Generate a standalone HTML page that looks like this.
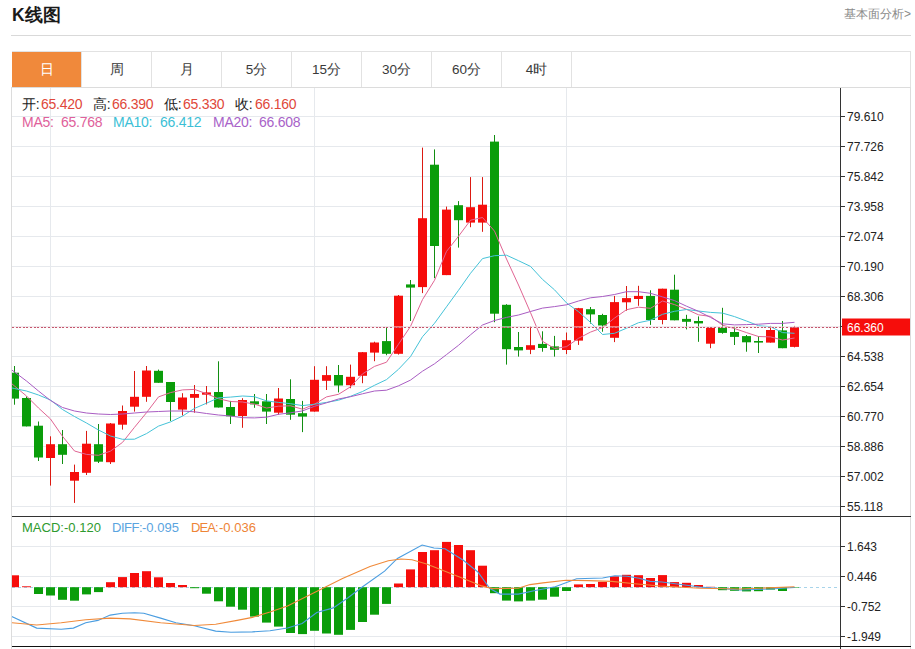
<!DOCTYPE html>
<html><head><meta charset="utf-8">
<style>
html,body{margin:0;padding:0;background:#fff;}
body{width:915px;height:649px;overflow:hidden;position:relative;font-family:"Liberation Sans",sans-serif;}
.title{position:absolute;left:12px;top:3.2px;font-size:17.5px;font-weight:bold;color:#1a1a1a;line-height:24px;}
.more{position:absolute;right:4px;top:5px;font-size:12px;color:#8a8a8a;line-height:18px;}
.hr{position:absolute;left:11px;top:35px;width:900px;height:1px;background:#d9d9d9;}
.tabs{position:absolute;left:12px;top:51px;width:898px;height:35px;border:1px solid #e2e2e2;border-left:none;}
.tab{position:absolute;top:0;height:35px;width:69px;border-right:1px solid #e2e2e2;text-align:center;line-height:36px;font-size:13.5px;color:#3a3a3a;}
.tab.on{background:#f0893b;color:#fff;}
svg{position:absolute;left:0;top:0;}
svg text{font-family:"Liberation Sans",sans-serif;font-size:12px;fill:#222;}
.leg{position:absolute;font-size:14px;letter-spacing:-0.25px;line-height:16px;white-space:nowrap;}
.lm{font-size:13px;letter-spacing:0}
.k{color:#222}.r{color:#e0483a}
</style></head><body>
<div class="title">K线图</div>
<div class="more">基本面分析&gt;</div>
<div class="hr"></div>
<div class="tabs">
<div class="tab on" style="left:0">日</div>
<div class="tab" style="left:70px">周</div>
<div class="tab" style="left:140px">月</div>
<div class="tab" style="left:210px">5分</div>
<div class="tab" style="left:280px">15分</div>
<div class="tab" style="left:350px">30分</div>
<div class="tab" style="left:420px">60分</div>
<div class="tab" style="left:490px">4时</div>
</div>
<svg width="915" height="649" viewBox="0 0 915 649">
<defs><clipPath id="cl"><rect x="12" y="88" width="828" height="428"/></clipPath>
<clipPath id="cm"><rect x="12" y="517" width="828" height="129"/></clipPath></defs>
<rect x="11.5" y="87.5" width="899" height="570" fill="none" stroke="#dcdcdc" stroke-width="1"/>
<rect x="12" y="116.0" width="828" height="1" fill="#e6e9ed"/>
<rect x="12" y="146.0" width="828" height="1" fill="#e6e9ed"/>
<rect x="12" y="176.0" width="828" height="1" fill="#e6e9ed"/>
<rect x="12" y="206.0" width="828" height="1" fill="#e6e9ed"/>
<rect x="12" y="236.0" width="828" height="1" fill="#e6e9ed"/>
<rect x="12" y="266.0" width="828" height="1" fill="#e6e9ed"/>
<rect x="12" y="296.0" width="828" height="1" fill="#e6e9ed"/>
<rect x="12" y="326.0" width="828" height="1" fill="#e6e9ed"/>
<rect x="12" y="356.0" width="828" height="1" fill="#e6e9ed"/>
<rect x="12" y="386.0" width="828" height="1" fill="#e6e9ed"/>
<rect x="12" y="416.0" width="828" height="1" fill="#e6e9ed"/>
<rect x="12" y="446.0" width="828" height="1" fill="#e6e9ed"/>
<rect x="12" y="476.0" width="828" height="1" fill="#e6e9ed"/>
<rect x="12" y="506.0" width="828" height="1" fill="#e6e9ed"/>
<rect x="12" y="546.0" width="828" height="1" fill="#e6e9ed"/>
<rect x="12" y="576.0" width="828" height="1" fill="#e6e9ed"/>
<rect x="12" y="606.0" width="828" height="1" fill="#e6e9ed"/>
<rect x="12" y="636.0" width="828" height="1" fill="#e6e9ed"/>
<rect x="50.0" y="88" width="1" height="561" fill="#e6e9ed"/>
<rect x="314.0" y="88" width="1" height="561" fill="#e6e9ed"/>
<rect x="566.0" y="88" width="1" height="561" fill="#e6e9ed"/>
<g clip-path="url(#cl)">
<rect x="14.0" y="366.0" width="1" height="38.7" fill="#128e12"/>
<rect x="10.0" y="372.7" width="9" height="25.9" fill="#0a9d0a"/>
<rect x="26.0" y="396.4" width="1" height="30.0" fill="#128e12"/>
<rect x="22.0" y="398.0" width="9" height="28.4" fill="#0a9d0a"/>
<rect x="38.0" y="421.5" width="1" height="39.5" fill="#128e12"/>
<rect x="34.0" y="425.7" width="9" height="31.8" fill="#0a9d0a"/>
<rect x="50.0" y="436.3" width="1" height="49.3" fill="#dc1a12"/>
<rect x="46.0" y="444.2" width="9" height="13.8" fill="#f60d0b"/>
<rect x="62.0" y="430.0" width="1" height="34.0" fill="#128e12"/>
<rect x="58.0" y="444.2" width="9" height="10.6" fill="#0a9d0a"/>
<rect x="74.0" y="464.6" width="1" height="38.3" fill="#dc1a12"/>
<rect x="70.0" y="472.0" width="9" height="8.7" fill="#f60d0b"/>
<rect x="86.0" y="430.9" width="1" height="44.1" fill="#dc1a12"/>
<rect x="82.0" y="443.7" width="9" height="29.1" fill="#f60d0b"/>
<rect x="98.0" y="424.0" width="1" height="39.0" fill="#128e12"/>
<rect x="94.0" y="444.2" width="9" height="17.5" fill="#0a9d0a"/>
<rect x="110.0" y="423.0" width="1" height="41.0" fill="#dc1a12"/>
<rect x="106.0" y="423.5" width="9" height="38.7" fill="#f60d0b"/>
<rect x="122.0" y="405.5" width="1" height="24.1" fill="#dc1a12"/>
<rect x="118.0" y="411.0" width="9" height="13.7" fill="#f60d0b"/>
<rect x="134.0" y="371.0" width="1" height="40.6" fill="#dc1a12"/>
<rect x="130.0" y="396.8" width="9" height="9.9" fill="#f60d0b"/>
<rect x="146.0" y="366.0" width="1" height="35.8" fill="#dc1a12"/>
<rect x="142.0" y="370.5" width="9" height="26.3" fill="#f60d0b"/>
<rect x="158.0" y="369.6" width="1" height="13.2" fill="#128e12"/>
<rect x="154.0" y="370.8" width="9" height="12.0" fill="#0a9d0a"/>
<rect x="170.0" y="382.0" width="1" height="38.9" fill="#128e12"/>
<rect x="166.0" y="382.0" width="9" height="20.0" fill="#0a9d0a"/>
<rect x="182.0" y="393.2" width="1" height="22.3" fill="#dc1a12"/>
<rect x="178.0" y="397.5" width="9" height="12.1" fill="#f60d0b"/>
<rect x="194.0" y="385.0" width="1" height="27.7" fill="#dc1a12"/>
<rect x="190.0" y="394.0" width="9" height="3.8" fill="#f60d0b"/>
<rect x="206.0" y="386.0" width="1" height="18.4" fill="#dc1a12"/>
<rect x="202.0" y="392.4" width="9" height="2.3" fill="#f60d0b"/>
<rect x="218.0" y="361.3" width="1" height="46.2" fill="#128e12"/>
<rect x="214.0" y="392.0" width="9" height="15.5" fill="#0a9d0a"/>
<rect x="230.0" y="400.9" width="1" height="23.1" fill="#128e12"/>
<rect x="226.0" y="407.0" width="9" height="9.3" fill="#0a9d0a"/>
<rect x="242.0" y="398.2" width="1" height="29.6" fill="#dc1a12"/>
<rect x="238.0" y="400.0" width="9" height="16.0" fill="#f60d0b"/>
<rect x="254.0" y="394.0" width="1" height="13.8" fill="#128e12"/>
<rect x="250.0" y="401.3" width="9" height="3.1" fill="#0a9d0a"/>
<rect x="266.0" y="394.0" width="1" height="30.0" fill="#128e12"/>
<rect x="262.0" y="401.3" width="9" height="10.3" fill="#0a9d0a"/>
<rect x="278.0" y="388.0" width="1" height="26.7" fill="#dc1a12"/>
<rect x="274.0" y="398.5" width="9" height="14.2" fill="#f60d0b"/>
<rect x="290.0" y="379.3" width="1" height="40.5" fill="#128e12"/>
<rect x="286.0" y="399.0" width="9" height="15.7" fill="#0a9d0a"/>
<rect x="302.0" y="400.9" width="1" height="31.2" fill="#128e12"/>
<rect x="298.0" y="413.2" width="9" height="3.4" fill="#0a9d0a"/>
<rect x="314.0" y="366.2" width="1" height="45.4" fill="#dc1a12"/>
<rect x="310.0" y="379.8" width="9" height="31.8" fill="#f60d0b"/>
<rect x="326.0" y="366.2" width="1" height="23.8" fill="#dc1a12"/>
<rect x="322.0" y="375.1" width="9" height="5.7" fill="#f60d0b"/>
<rect x="338.0" y="365.0" width="1" height="27.4" fill="#128e12"/>
<rect x="334.0" y="375.0" width="9" height="10.5" fill="#0a9d0a"/>
<rect x="350.0" y="364.6" width="1" height="23.6" fill="#dc1a12"/>
<rect x="346.0" y="376.8" width="9" height="8.4" fill="#f60d0b"/>
<rect x="362.0" y="352.0" width="1" height="31.2" fill="#dc1a12"/>
<rect x="358.0" y="352.2" width="9" height="23.6" fill="#f60d0b"/>
<rect x="374.0" y="341.7" width="1" height="19.5" fill="#dc1a12"/>
<rect x="370.0" y="342.5" width="9" height="10.1" fill="#f60d0b"/>
<rect x="386.0" y="327.7" width="1" height="27.5" fill="#128e12"/>
<rect x="382.0" y="341.1" width="9" height="12.7" fill="#0a9d0a"/>
<rect x="398.0" y="295.0" width="1" height="59.6" fill="#dc1a12"/>
<rect x="394.0" y="295.7" width="9" height="58.1" fill="#f60d0b"/>
<rect x="410.0" y="280.0" width="1" height="41.0" fill="#128e12"/>
<rect x="406.0" y="284.4" width="9" height="3.2" fill="#0a9d0a"/>
<rect x="422.0" y="147.6" width="1" height="145.5" fill="#dc1a12"/>
<rect x="418.0" y="218.2" width="9" height="68.9" fill="#f60d0b"/>
<rect x="434.0" y="149.4" width="1" height="128.7" fill="#128e12"/>
<rect x="430.0" y="164.7" width="9" height="81.3" fill="#0a9d0a"/>
<rect x="446.0" y="206.6" width="1" height="68.5" fill="#dc1a12"/>
<rect x="442.0" y="209.6" width="9" height="65.5" fill="#f60d0b"/>
<rect x="458.0" y="201.1" width="1" height="46.5" fill="#128e12"/>
<rect x="454.0" y="205.2" width="9" height="15.0" fill="#0a9d0a"/>
<rect x="470.0" y="177.1" width="1" height="50.1" fill="#dc1a12"/>
<rect x="466.0" y="207.2" width="9" height="15.4" fill="#f60d0b"/>
<rect x="482.0" y="177.1" width="1" height="54.7" fill="#dc1a12"/>
<rect x="478.0" y="204.7" width="9" height="17.9" fill="#f60d0b"/>
<rect x="494.0" y="135.0" width="1" height="187.2" fill="#128e12"/>
<rect x="490.0" y="141.6" width="9" height="172.1" fill="#0a9d0a"/>
<rect x="506.0" y="304.2" width="1" height="60.4" fill="#128e12"/>
<rect x="502.0" y="304.8" width="9" height="44.4" fill="#0a9d0a"/>
<rect x="518.0" y="332.0" width="1" height="24.6" fill="#128e12"/>
<rect x="514.0" y="347.0" width="9" height="3.4" fill="#0a9d0a"/>
<rect x="530.0" y="326.4" width="1" height="27.7" fill="#dc1a12"/>
<rect x="526.0" y="345.2" width="9" height="4.6" fill="#f60d0b"/>
<rect x="542.0" y="331.3" width="1" height="20.4" fill="#128e12"/>
<rect x="538.0" y="343.9" width="9" height="4.1" fill="#0a9d0a"/>
<rect x="554.0" y="335.9" width="1" height="20.7" fill="#128e12"/>
<rect x="550.0" y="346.4" width="9" height="3.4" fill="#0a9d0a"/>
<rect x="566.0" y="332.5" width="1" height="21.6" fill="#dc1a12"/>
<rect x="562.0" y="340.2" width="9" height="9.8" fill="#f60d0b"/>
<rect x="578.0" y="307.9" width="1" height="37.0" fill="#dc1a12"/>
<rect x="574.0" y="308.2" width="9" height="32.4" fill="#f60d0b"/>
<rect x="590.0" y="307.0" width="1" height="16.6" fill="#128e12"/>
<rect x="586.0" y="309.2" width="9" height="5.2" fill="#0a9d0a"/>
<rect x="602.0" y="313.8" width="1" height="17.9" fill="#128e12"/>
<rect x="598.0" y="315.0" width="9" height="10.5" fill="#0a9d0a"/>
<rect x="614.0" y="295.9" width="1" height="46.2" fill="#dc1a12"/>
<rect x="610.0" y="302.1" width="9" height="35.7" fill="#f60d0b"/>
<rect x="626.0" y="286.0" width="1" height="24.7" fill="#dc1a12"/>
<rect x="622.0" y="298.1" width="9" height="4.2" fill="#f60d0b"/>
<rect x="638.0" y="285.8" width="1" height="20.0" fill="#dc1a12"/>
<rect x="634.0" y="295.9" width="9" height="3.1" fill="#f60d0b"/>
<rect x="650.0" y="290.3" width="1" height="34.6" fill="#128e12"/>
<rect x="646.0" y="295.9" width="9" height="24.1" fill="#0a9d0a"/>
<rect x="662.0" y="288.7" width="1" height="35.6" fill="#dc1a12"/>
<rect x="658.0" y="288.7" width="9" height="31.3" fill="#f60d0b"/>
<rect x="674.0" y="274.7" width="1" height="45.6" fill="#128e12"/>
<rect x="670.0" y="289.7" width="9" height="30.6" fill="#0a9d0a"/>
<rect x="686.0" y="314.8" width="1" height="14.6" fill="#128e12"/>
<rect x="682.0" y="318.9" width="9" height="2.9" fill="#0a9d0a"/>
<rect x="698.0" y="316.4" width="1" height="25.4" fill="#128e12"/>
<rect x="694.0" y="321.0" width="9" height="2.4" fill="#0a9d0a"/>
<rect x="710.0" y="327.7" width="1" height="20.5" fill="#dc1a12"/>
<rect x="706.0" y="327.7" width="9" height="16.0" fill="#f60d0b"/>
<rect x="722.0" y="307.8" width="1" height="25.9" fill="#128e12"/>
<rect x="718.0" y="327.7" width="9" height="5.2" fill="#0a9d0a"/>
<rect x="734.0" y="326.7" width="1" height="18.3" fill="#128e12"/>
<rect x="730.0" y="332.0" width="9" height="4.9" fill="#0a9d0a"/>
<rect x="746.0" y="335.0" width="1" height="16.7" fill="#128e12"/>
<rect x="742.0" y="336.1" width="9" height="6.2" fill="#0a9d0a"/>
<rect x="758.0" y="336.1" width="1" height="16.9" fill="#128e12"/>
<rect x="754.0" y="341.0" width="9" height="1.6" fill="#0a9d0a"/>
<rect x="770.0" y="325.9" width="1" height="16.7" fill="#dc1a12"/>
<rect x="766.0" y="330.0" width="9" height="12.6" fill="#f60d0b"/>
<rect x="782.0" y="321.0" width="1" height="27.2" fill="#128e12"/>
<rect x="778.0" y="330.4" width="9" height="17.8" fill="#0a9d0a"/>
<rect x="794.0" y="325.9" width="1" height="21.5" fill="#dc1a12"/>
<rect x="790.0" y="327.0" width="9" height="19.9" fill="#f60d0b"/>
<path d="M2.0,375.6 L14.5,386.0 L26.5,396.0 L38.5,408.0 L50.5,419.0 L62.5,436.3 L74.5,451.0 L86.5,454.4 L98.5,455.3 L110.5,451.1 L122.5,442.4 L134.5,427.3 L146.5,412.7 L158.5,396.9 L170.5,392.6 L182.5,389.9 L194.5,389.4 L206.5,393.7 L218.5,398.7 L230.5,401.5 L242.5,402.0 L254.5,404.1 L266.5,408.0 L278.5,406.2 L290.5,405.8 L302.5,409.2 L314.5,404.2 L326.5,396.9 L338.5,394.3 L350.5,386.8 L362.5,373.9 L374.5,366.4 L386.5,362.2 L398.5,344.2 L410.5,326.4 L422.5,299.6 L434.5,280.3 L446.5,251.4 L458.5,236.3 L470.5,220.2 L482.5,217.5 L494.5,231.1 L506.5,259.0 L518.5,285.0 L530.5,312.6 L542.5,341.3 L554.5,348.5 L566.5,346.7 L578.5,338.3 L590.5,332.1 L602.5,327.6 L614.5,318.1 L626.5,309.7 L638.5,307.2 L650.5,308.3 L662.5,301.0 L674.5,304.6 L686.5,309.3 L698.5,314.8 L710.5,316.4 L722.5,325.2 L734.5,328.5 L746.5,332.6 L758.5,336.5 L770.5,336.9 L782.5,340.0 L794.5,338.0" fill="none" stroke="#e06593" stroke-width="1"/><path d="M2.0,385.9 L14.5,388.5 L26.5,391.0 L38.5,395.0 L50.5,400.0 L62.5,409.5 L74.5,416.5 L86.5,423.0 L98.5,430.0 L110.5,436.0 L122.5,439.3 L134.5,439.2 L146.5,433.6 L158.5,426.1 L170.5,421.9 L182.5,416.1 L194.5,408.4 L206.5,403.2 L218.5,397.8 L230.5,397.1 L242.5,396.0 L254.5,396.7 L266.5,400.9 L278.5,402.4 L290.5,403.7 L302.5,405.6 L314.5,404.2 L326.5,402.4 L338.5,400.2 L350.5,396.3 L362.5,391.5 L374.5,385.3 L386.5,379.6 L398.5,369.3 L410.5,356.6 L422.5,336.7 L434.5,323.3 L446.5,306.8 L458.5,290.3 L470.5,273.3 L482.5,258.6 L494.5,255.7 L506.5,255.2 L518.5,260.7 L530.5,266.4 L542.5,279.4 L554.5,289.8 L566.5,302.9 L578.5,311.7 L590.5,322.4 L602.5,334.5 L614.5,333.3 L626.5,328.2 L638.5,322.7 L650.5,320.2 L662.5,314.3 L674.5,311.3 L686.5,309.5 L698.5,311.0 L710.5,312.4 L722.5,313.1 L734.5,316.6 L746.5,321.0 L758.5,325.7 L770.5,326.7 L782.5,332.6 L794.5,333.3" fill="none" stroke="#45c3d8" stroke-width="1"/><path d="M2.0,362.6 L14.5,372.0 L26.5,381.0 L38.5,391.0 L50.5,400.5 L62.5,407.5 L74.5,411.0 L86.5,413.0 L98.5,414.0 L110.5,414.5 L122.5,414.0 L134.5,413.0 L146.5,412.0 L158.5,411.5 L170.5,411.0 L182.5,411.0 L194.5,411.8 L206.5,413.5 L218.5,415.0 L230.5,416.0 L242.5,417.7 L254.5,417.9 L266.5,417.2 L278.5,414.3 L290.5,412.8 L302.5,410.9 L314.5,406.3 L326.5,402.8 L338.5,399.0 L350.5,396.7 L362.5,393.8 L374.5,391.0 L386.5,390.2 L398.5,385.8 L410.5,380.1 L422.5,371.2 L434.5,363.8 L446.5,354.6 L458.5,345.3 L470.5,334.8 L482.5,325.0 L494.5,320.5 L506.5,317.4 L518.5,315.0 L530.5,311.5 L542.5,308.1 L554.5,306.6 L566.5,304.8 L578.5,301.0 L590.5,297.8 L602.5,296.5 L614.5,294.5 L626.5,291.7 L638.5,291.7 L650.5,293.3 L662.5,296.9 L674.5,300.6 L686.5,306.2 L698.5,311.3 L710.5,317.4 L722.5,323.8 L734.5,324.9 L746.5,324.6 L758.5,324.2 L770.5,323.4 L782.5,323.4 L794.5,322.3" fill="none" stroke="#a95dc3" stroke-width="1"/>
</g>
<line x1="12" y1="327" x2="840" y2="327" stroke="#fbe6ea" stroke-width="1"/><line x1="12" y1="327" x2="840" y2="327" stroke="#c4586e" stroke-width="1" stroke-dasharray="2,1.6" shape-rendering="crispEdges"/>
<g clip-path="url(#cm)">
<line x1="12" y1="587.5" x2="840" y2="587.5" stroke="#a8d4ea" stroke-width="1" stroke-dasharray="3,3"/>
<rect x="10.0" y="575.3" width="9" height="11.9" fill="#f60d0b"/>
<rect x="22.0" y="586.3" width="9" height="0.9" fill="#f60d0b"/>
<rect x="34.0" y="587.2" width="9" height="6.8" fill="#0a9d0a"/>
<rect x="46.0" y="587.2" width="9" height="8.3" fill="#0a9d0a"/>
<rect x="58.0" y="587.2" width="9" height="12.6" fill="#0a9d0a"/>
<rect x="70.0" y="587.2" width="9" height="13.5" fill="#0a9d0a"/>
<rect x="82.0" y="587.2" width="9" height="7.2" fill="#0a9d0a"/>
<rect x="94.0" y="587.2" width="9" height="4.9" fill="#0a9d0a"/>
<rect x="106.0" y="582.2" width="9" height="5.0" fill="#f60d0b"/>
<rect x="118.0" y="577.1" width="9" height="10.1" fill="#f60d0b"/>
<rect x="130.0" y="573.0" width="9" height="14.2" fill="#f60d0b"/>
<rect x="142.0" y="571.2" width="9" height="16.0" fill="#f60d0b"/>
<rect x="154.0" y="577.3" width="9" height="9.9" fill="#f60d0b"/>
<rect x="166.0" y="583.0" width="9" height="4.2" fill="#f60d0b"/>
<rect x="178.0" y="585.0" width="9" height="2.2" fill="#f60d0b"/>
<rect x="190.0" y="587.2" width="9" height="1.0" fill="#0a9d0a"/>
<rect x="202.0" y="587.2" width="9" height="6.5" fill="#0a9d0a"/>
<rect x="214.0" y="587.2" width="9" height="14.1" fill="#0a9d0a"/>
<rect x="226.0" y="587.2" width="9" height="19.5" fill="#0a9d0a"/>
<rect x="238.0" y="587.2" width="9" height="22.5" fill="#0a9d0a"/>
<rect x="250.0" y="587.2" width="9" height="29.4" fill="#0a9d0a"/>
<rect x="262.0" y="587.2" width="9" height="35.4" fill="#0a9d0a"/>
<rect x="274.0" y="587.2" width="9" height="39.4" fill="#0a9d0a"/>
<rect x="286.0" y="587.2" width="9" height="45.8" fill="#0a9d0a"/>
<rect x="298.0" y="587.2" width="9" height="46.9" fill="#0a9d0a"/>
<rect x="310.0" y="587.2" width="9" height="43.6" fill="#0a9d0a"/>
<rect x="322.0" y="587.2" width="9" height="46.3" fill="#0a9d0a"/>
<rect x="334.0" y="587.2" width="9" height="47.6" fill="#0a9d0a"/>
<rect x="346.0" y="587.2" width="9" height="42.7" fill="#0a9d0a"/>
<rect x="358.0" y="587.2" width="9" height="34.8" fill="#0a9d0a"/>
<rect x="370.0" y="587.2" width="9" height="27.5" fill="#0a9d0a"/>
<rect x="382.0" y="587.2" width="9" height="16.7" fill="#0a9d0a"/>
<rect x="394.0" y="583.5" width="9" height="3.7" fill="#f60d0b"/>
<rect x="406.0" y="569.4" width="9" height="17.8" fill="#f60d0b"/>
<rect x="418.0" y="552.0" width="9" height="35.2" fill="#f60d0b"/>
<rect x="430.0" y="550.2" width="9" height="37.0" fill="#f60d0b"/>
<rect x="442.0" y="541.9" width="9" height="45.3" fill="#f60d0b"/>
<rect x="454.0" y="545.0" width="9" height="42.2" fill="#f60d0b"/>
<rect x="466.0" y="550.2" width="9" height="37.0" fill="#f60d0b"/>
<rect x="478.0" y="565.7" width="9" height="21.5" fill="#f60d0b"/>
<rect x="490.0" y="587.2" width="9" height="6.0" fill="#0a9d0a"/>
<rect x="502.0" y="587.2" width="9" height="13.4" fill="#0a9d0a"/>
<rect x="514.0" y="587.2" width="9" height="14.2" fill="#0a9d0a"/>
<rect x="526.0" y="587.2" width="9" height="13.4" fill="#0a9d0a"/>
<rect x="538.0" y="587.2" width="9" height="12.5" fill="#0a9d0a"/>
<rect x="550.0" y="587.2" width="9" height="9.5" fill="#0a9d0a"/>
<rect x="562.0" y="587.2" width="9" height="3.8" fill="#0a9d0a"/>
<rect x="574.0" y="584.4" width="9" height="2.8" fill="#f60d0b"/>
<rect x="586.0" y="584.0" width="9" height="3.2" fill="#f60d0b"/>
<rect x="598.0" y="581.8" width="9" height="5.4" fill="#f60d0b"/>
<rect x="610.0" y="576.3" width="9" height="10.9" fill="#f60d0b"/>
<rect x="622.0" y="574.8" width="9" height="12.4" fill="#f60d0b"/>
<rect x="634.0" y="575.2" width="9" height="12.0" fill="#f60d0b"/>
<rect x="646.0" y="578.0" width="9" height="9.2" fill="#f60d0b"/>
<rect x="658.0" y="575.1" width="9" height="12.1" fill="#f60d0b"/>
<rect x="670.0" y="582.1" width="9" height="5.1" fill="#f60d0b"/>
<rect x="682.0" y="582.8" width="9" height="4.4" fill="#f60d0b"/>
<rect x="694.0" y="585.0" width="9" height="2.2" fill="#f60d0b"/>
<rect x="706.0" y="586.8" width="9" height="0.4" fill="#f60d0b"/>
<rect x="718.0" y="587.2" width="9" height="3.0" fill="#0a9d0a"/>
<rect x="730.0" y="587.2" width="9" height="3.6" fill="#0a9d0a"/>
<rect x="742.0" y="587.2" width="9" height="4.2" fill="#0a9d0a"/>
<rect x="754.0" y="587.2" width="9" height="4.0" fill="#0a9d0a"/>
<rect x="766.0" y="587.2" width="9" height="2.4" fill="#0a9d0a"/>
<rect x="778.0" y="587.2" width="9" height="3.8" fill="#0a9d0a"/>
<rect x="790.0" y="587.2" width="9" height="0.5" fill="#0a9d0a"/>
<path d="M2.0,610.0 L11.5,616.3 L36.7,628.1 L61.2,629.2 L73.4,628.1 L85.7,622.7 L97.9,620.4 L110.2,615.1 L122.4,613.2 L134.6,612.8 L143.8,613.2 L160.6,618.1 L175.9,622.7 L194.3,625.8 L215.7,631.1 L231.0,632.2 L252.4,631.9 L270.0,630.7 L287.5,628.0 L302.1,623.5 L316.8,612.5 L333.3,607.9 L348.0,597.8 L362.6,586.8 L384.6,571.2 L397.4,558.4 L422.1,545.0 L434.0,548.0 L445.0,548.7 L463.3,560.2 L478.0,572.1 L489.9,588.6 L500.0,594.1 L518.3,594.1 L535.3,590.5 L555.2,586.7 L576.6,578.8 L602.6,578.0 L614.9,575.7 L627.1,576.3 L639.3,578.3 L650.0,581.4 L662.0,582.0 L700.0,587.0 L740.0,590.0 L770.0,589.0 L794.5,587.5" fill="none" stroke="#4a9de0" stroke-width="1.1"/><path d="M2.0,621.0 L11.5,622.7 L36.7,625.0 L61.2,622.7 L85.7,619.7 L110.2,618.1 L130.0,618.9 L160.6,622.7 L194.3,625.5 L215.7,624.3 L237.1,620.4 L252.4,617.4 L270.0,612.0 L287.5,606.0 L315.0,592.3 L342.5,578.6 L370.0,566.6 L388.3,560.8 L401.0,559.0 L412.0,559.7 L426.6,563.9 L445.0,571.2 L463.3,578.6 L481.6,585.9 L492.6,588.6 L518.3,588.3 L530.0,584.6 L543.0,582.9 L565.9,580.3 L588.8,580.6 L611.8,581.4 L634.8,583.7 L660.0,586.0 L700.0,588.3 L740.0,589.0 L794.5,586.8" fill="none" stroke="#f08a3a" stroke-width="1.1"/>
</g>
<rect x="840" y="88" width="1" height="561" fill="#333"/>
<rect x="12" y="516" width="899" height="1" fill="#333"/>
<rect x="12" y="646" width="899" height="1" fill="#111"/>
<rect x="840" y="116.0" width="5" height="1" fill="#333"/>
<text x="847" y="121.0">79.610</text>
<rect x="840" y="146.0" width="5" height="1" fill="#333"/>
<text x="847" y="151.0">77.726</text>
<rect x="840" y="176.0" width="5" height="1" fill="#333"/>
<text x="847" y="181.0">75.842</text>
<rect x="840" y="206.0" width="5" height="1" fill="#333"/>
<text x="847" y="211.0">73.958</text>
<rect x="840" y="236.0" width="5" height="1" fill="#333"/>
<text x="847" y="241.0">72.074</text>
<rect x="840" y="266.0" width="5" height="1" fill="#333"/>
<text x="847" y="271.0">70.190</text>
<rect x="840" y="296.0" width="5" height="1" fill="#333"/>
<text x="847" y="301.0">68.306</text>
<rect x="840" y="326.0" width="5" height="1" fill="#333"/>
<rect x="840" y="356.0" width="5" height="1" fill="#333"/>
<text x="847" y="361.0">64.538</text>
<rect x="840" y="386.0" width="5" height="1" fill="#333"/>
<text x="847" y="391.0">62.654</text>
<rect x="840" y="416.0" width="5" height="1" fill="#333"/>
<text x="847" y="421.0">60.770</text>
<rect x="840" y="446.0" width="5" height="1" fill="#333"/>
<text x="847" y="451.0">58.886</text>
<rect x="840" y="476.0" width="5" height="1" fill="#333"/>
<text x="847" y="481.0">57.002</text>
<rect x="840" y="506.0" width="5" height="1" fill="#333"/>
<text x="847" y="511.0">55.118</text>
<rect x="840" y="546.0" width="5" height="1" fill="#333"/>
<text x="847" y="551.0">1.643</text>
<rect x="840" y="576.0" width="5" height="1" fill="#333"/>
<text x="847" y="581.0">0.446</text>
<rect x="840" y="606.0" width="5" height="1" fill="#333"/>
<text x="847" y="611.0">-0.752</text>
<rect x="840" y="636.0" width="5" height="1" fill="#333"/>
<text x="847" y="641.0">-1.949</text>
<rect x="842" y="318.5" width="68" height="17" fill="#f60d0b"/>
<text x="847" y="331.5" style="fill:#fff">66.360</text>
</svg>
<div class="leg k" style="left:22px;top:96px">开:</div><div class="leg r" style="left:41px;top:96px">65.420</div>
<div class="leg k" style="left:93px;top:96px">高:</div><div class="leg r" style="left:112px;top:96px">66.390</div>
<div class="leg k" style="left:164px;top:96px">低:</div><div class="leg r" style="left:183px;top:96px">65.330</div>
<div class="leg k" style="left:235px;top:96px">收:</div><div class="leg r" style="left:255px;top:96px">66.160</div>
<div class="leg" style="left:22px;top:114px;color:#e0609a">MA5:</div><div class="leg" style="left:61px;top:114px;color:#e0609a">65.768</div>
<div class="leg" style="left:113px;top:114px;color:#3cbfd6">MA10:</div><div class="leg" style="left:160px;top:114px;color:#3cbfd6">66.412</div>
<div class="leg" style="left:213px;top:114px;color:#a862c8">MA20:</div><div class="leg" style="left:259px;top:114px;color:#a862c8">66.608</div>
<div class="leg lm" style="left:22px;top:520px;color:#2e9a2e">MACD:</div><div class="leg lm" style="left:64px;top:520px;color:#2e9a2e">-0.120</div>
<div class="leg lm" style="left:112px;top:520px;color:#5aa4e0;letter-spacing:-0.5px">DIFF:</div><div class="leg lm" style="left:142px;top:520px;color:#5aa4e0">-0.095</div>
<div class="leg lm" style="left:191px;top:520px;color:#ee8436;letter-spacing:-0.9px">DEA:</div><div class="leg lm" style="left:219px;top:520px;color:#ee8436">-0.036</div>
</body></html>
